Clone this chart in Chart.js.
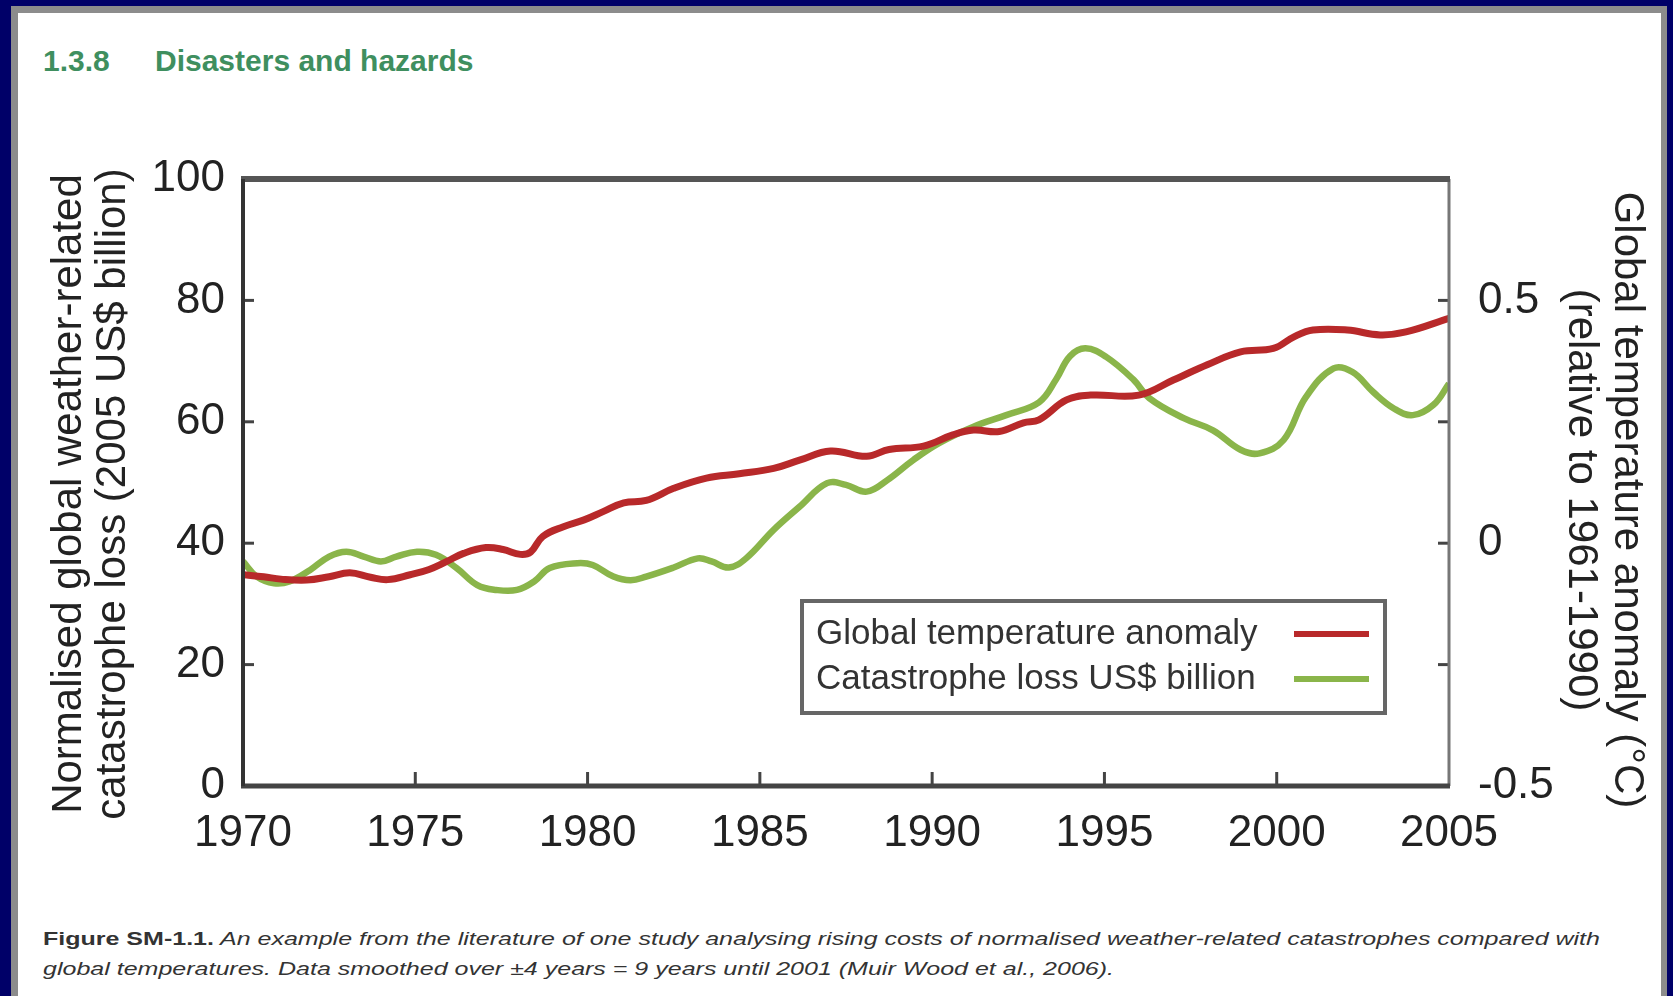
<!DOCTYPE html>
<html>
<head>
<meta charset="utf-8">
<script src="https://cdn.jsdelivr.net/npm/chart.js@4"></script>
<style>
  html, body { margin: 0; padding: 0; }
  body { width: 1673px; height: 996px; background: #000068; position: relative; overflow: hidden; font-family: "Liberation Sans", Arial, sans-serif; }
  #shade { position: absolute; left: 11px; top: 6px; width: 1656px; height: 1000px; background: #8c8c8c; }
  #page { position: absolute; left: 18px; top: 13px; width: 1643px; height: 990px; background: #ffffff; }
  #chart { position: absolute; left: 0; top: 0; }
  .ttl { position: absolute; top: 44px; font-weight: bold; font-size: 30px; color: #3f8f5f; white-space: nowrap; line-height: 34px; }
  .cap { position: absolute; left: 43px; font-size: 19px; color: #333; white-space: nowrap; transform-origin: 0 50%; line-height: 22px; font-style: italic; }
  .cap b { font-style: normal; }
</style>
</head>
<body>
<div id="shade"></div>
<div id="page"></div>
<div class="ttl" style="left:43px">1.3.8</div>
<div class="ttl" style="left:155px">Disasters and hazards</div>
<div class="cap" id="cap1" style="top:928px"><b>Figure SM-1.1.</b> An example from the literature of one study analysing rising costs of normalised weather-related catastrophes compared with</div>
<div class="cap" id="cap2" style="top:958px">global temperatures. Data smoothed over ±4 years = 9 years until 2001 (Muir Wood et al., 2006).</div>
<canvas id="chart" width="1673" height="996"></canvas>
<script>
// ---- data ----
const tempYears = [1970.0, 1970.6, 1971.1, 1971.85, 1972.5, 1973.1, 1973.7, 1974.2, 1974.85, 1975.4, 1975.9, 1976.4, 1977.05, 1977.55, 1978.05, 1978.35, 1978.7, 1979.3, 1979.9, 1980.45, 1981.05, 1981.7, 1982.5, 1983.45, 1984.4, 1985.4, 1986.15, 1987.05, 1988.1, 1988.75, 1989.75, 1990.6, 1991.2, 1991.95, 1992.65, 1993.1, 1993.9, 1994.6, 1996.0, 1997.0, 1998.0, 1998.95, 1999.9, 2000.5, 2001.05, 2002.05, 2003.0, 2003.75, 2005.0];
const tempValues = [-0.065, -0.069, -0.074, -0.076, -0.069, -0.061, -0.070, -0.075, -0.065, -0.054, -0.038, -0.021, -0.009, -0.013, -0.023, -0.018, 0.014, 0.034, 0.048, 0.065, 0.083, 0.088, 0.113, 0.134, 0.143, 0.154, 0.171, 0.190, 0.179, 0.193, 0.200, 0.223, 0.233, 0.230, 0.248, 0.254, 0.295, 0.305, 0.305, 0.336, 0.368, 0.394, 0.401, 0.425, 0.439, 0.439, 0.429, 0.435, 0.463];

const lossYears = [1970.0, 1970.4, 1970.9, 1971.35, 1971.95, 1972.5, 1973.0, 1973.5, 1974.0, 1974.45, 1975.05, 1975.6, 1976.2, 1976.8, 1977.35, 1977.95, 1978.45, 1978.9, 1979.7, 1980.15, 1980.75, 1981.25, 1981.7, 1982.5, 1983.2, 1983.6, 1984.1, 1984.6, 1985.4, 1986.15, 1986.95, 1987.5, 1988.1, 1988.7, 1989.45, 1990.2, 1991.2, 1992.15, 1993.1, 1993.6, 1994.0, 1994.45, 1995.05, 1995.85, 1996.3, 1997.3, 1998.15, 1998.95, 1999.5, 2000.2, 2000.85, 2001.65, 2002.2, 2002.8, 2003.4, 2003.95, 2004.55, 2005.0];
const lossValues = [37.0, 34.5, 33.4, 33.7, 35.6, 37.8, 38.6, 37.8, 37.0, 37.8, 38.6, 38.1, 35.9, 33.1, 32.3, 32.3, 33.7, 35.9, 36.7, 36.4, 34.5, 33.9, 34.5, 36.0, 37.5, 37.0, 36.0, 37.5, 42.2, 46.0, 49.9, 49.6, 48.5, 50.4, 53.7, 56.5, 59.2, 61.1, 63.2, 67.0, 70.8, 72.1, 70.7, 66.9, 63.9, 60.6, 58.6, 55.4, 54.8, 57.0, 64.1, 68.8, 68.2, 64.9, 62.2, 61.1, 62.8, 66.3];

const seriesLabels = ['Global temperature anomaly', 'Catastrophe loss US$ billion'];
const xTicks = [1970, 1975, 1980, 1985, 1990, 1995, 2000, 2005];
const leftTicks = [0, 20, 40, 60, 80, 100];
const rightLabelled = [-0.5, 0, 0.5];
const leftTitle = ['Normalised global weather-related', 'catastrophe loss (2005 US$ billion)'];
const rightTitle = ['Global temperature anomaly (°C)', '(relative to 1961-1990)'];

const RED = '#b8292a';
const GREEN = '#8ab54a';
const FONT = '"Liberation Sans", Arial, sans-serif';

const frame = {
  id: 'frame',
  afterDatasetsDraw(chart) {
    const ctx = chart.ctx;
    const a = chart.chartArea;
    const sx = chart.scales.x, sy = chart.scales.y, sr = chart.scales.y2;
    ctx.save();
    ctx.lineCap = 'butt';
    // inward tick marks
    ctx.strokeStyle = '#444';
    ctx.lineWidth = 3;
    sy.ticks.forEach(t => {
      if (t.value <= sy.min || t.value >= sy.max) return;
      const p = sy.getPixelForValue(t.value);
      ctx.beginPath(); ctx.moveTo(a.left, p); ctx.lineTo(a.left + 11, p); ctx.stroke();
    });
    sr.ticks.forEach(t => {
      if (t.value <= sr.min || t.value >= sr.max) return;
      const p = sr.getPixelForValue(t.value);
      ctx.beginPath(); ctx.moveTo(a.right, p); ctx.lineTo(a.right - 11, p); ctx.stroke();
    });
    sx.ticks.forEach(t => {
      if (t.value <= sx.min || t.value >= sx.max) return;
      const p = sx.getPixelForValue(t.value);
      ctx.beginPath(); ctx.moveTo(p, a.bottom); ctx.lineTo(p, a.bottom - 14); ctx.stroke();
    });
    // borders
    ctx.strokeStyle = '#777'; ctx.lineWidth = 3;
    ctx.beginPath(); ctx.moveTo(a.right, a.top); ctx.lineTo(a.right, a.bottom); ctx.stroke();
    ctx.strokeStyle = '#555'; ctx.lineWidth = 6;
    ctx.beginPath(); ctx.moveTo(a.left - 2, a.top); ctx.lineTo(a.right + 1, a.top); ctx.stroke();
    ctx.strokeStyle = '#444'; ctx.lineWidth = 5;
    ctx.beginPath(); ctx.moveTo(a.left - 2, a.bottom); ctx.lineTo(a.right + 1, a.bottom); ctx.stroke();
    ctx.strokeStyle = '#333'; ctx.lineWidth = 4;
    ctx.beginPath(); ctx.moveTo(a.left, a.top); ctx.lineTo(a.left, a.bottom); ctx.stroke();

    // axis titles
    ctx.fillStyle = '#222';
    ctx.textAlign = 'center';
    ctx.textBaseline = 'middle';
    ctx.font = '42px ' + FONT;
    ctx.save();
    ctx.translate(69, 494); ctx.rotate(-Math.PI / 2);
    ctx.fillText(leftTitle[0], 0, 0);
    ctx.fillText(leftTitle[1], 0, 44);
    ctx.restore();
    ctx.save();
    ctx.translate(1627, 500); ctx.rotate(Math.PI / 2);
    ctx.fillText(rightTitle[0], 0, 0);
    ctx.fillText(rightTitle[1], 0, 46);
    ctx.restore();

    // legend box
    const bx = 802, by = 601, bw = 583, bh = 112;
    ctx.fillStyle = '#fff';
    ctx.fillRect(bx, by, bw, bh);
    ctx.strokeStyle = '#666'; ctx.lineWidth = 4;
    ctx.strokeRect(bx, by, bw, bh);
    ctx.font = '35px ' + FONT;
    ctx.textBaseline = 'middle';
    ctx.textAlign = 'left';
    const rows = [634, 679];
    chart.data.datasets.forEach((ds, i) => {
      ctx.fillStyle = '#333';
      ctx.fillText(ds.label, 816, rows[i]);
      ctx.strokeStyle = ds.borderColor; ctx.lineWidth = 6;
      ctx.beginPath(); ctx.moveTo(1294, rows[i]); ctx.lineTo(1369, rows[i]); ctx.stroke();
    });
    ctx.restore();
  }
};

new Chart(document.getElementById('chart'), {
  type: 'line',
  data: {
    datasets: [
      { label: seriesLabels[0], data: tempYears.map((x, i) => ({ x, y: tempValues[i] })), yAxisID: 'y2', borderColor: RED, borderWidth: 7, pointRadius: 0, tension: 0.4, fill: false },
      { label: seriesLabels[1], data: lossYears.map((x, i) => ({ x, y: lossValues[i] })), yAxisID: 'y', borderColor: GREEN, borderWidth: 6.5, pointRadius: 0, tension: 0.4, fill: false }
    ]
  },
  options: {
    responsive: false,
    animation: false,
    devicePixelRatio: 1,
    layout: { padding: { top: 179, bottom: 110, left: 0, right: 0 } },
    plugins: { legend: { display: false }, tooltip: { enabled: false } },
    scales: {
      x: {
        type: 'linear', min: 1970, max: 2005,
        afterBuildTicks(s) { s.ticks = xTicks.map(v => ({ value: v })); },
        afterFit(s) { s.height = 100; },
        grid: { display: false }, border: { display: false },
        ticks: { padding: 13, color: '#222', font: { family: FONT, size: 44 }, maxRotation: 0, callback: v => String(v) }
      },
      y: {
        position: 'left', min: 0, max: 100,
        afterBuildTicks(s) { s.ticks = leftTicks.map(v => ({ value: v })); },
        afterFit(s) { s.width = 243; },
        grid: { display: false }, border: { display: false },
        ticks: { padding: 10, color: '#222', font: { family: FONT, size: 44 }, callback: v => String(v) }
      },
      y2: {
        position: 'right', min: -0.5, max: 0.75,
        ticks: { stepSize: 0.25, padding: 21, color: '#222', font: { family: FONT, size: 44 },
          callback: v => { const r = Math.round(v * 100) / 100; return rightLabelled.includes(r) ? String(r) : ''; } },
        afterFit(s) { s.width = 224; },
        grid: { display: false }, border: { display: false }
      }
    }
  },
  plugins: [frame]
});

// fit caption to reference width
(function () {
  const c1 = document.getElementById('cap1'), c2 = document.getElementById('cap2');
  const k = 1557 / c1.getBoundingClientRect().width;
  c1.style.transform = 'scaleX(' + k + ')';
  c2.style.transform = 'scaleX(' + k + ')';
})();
</script>
</body>
</html>
